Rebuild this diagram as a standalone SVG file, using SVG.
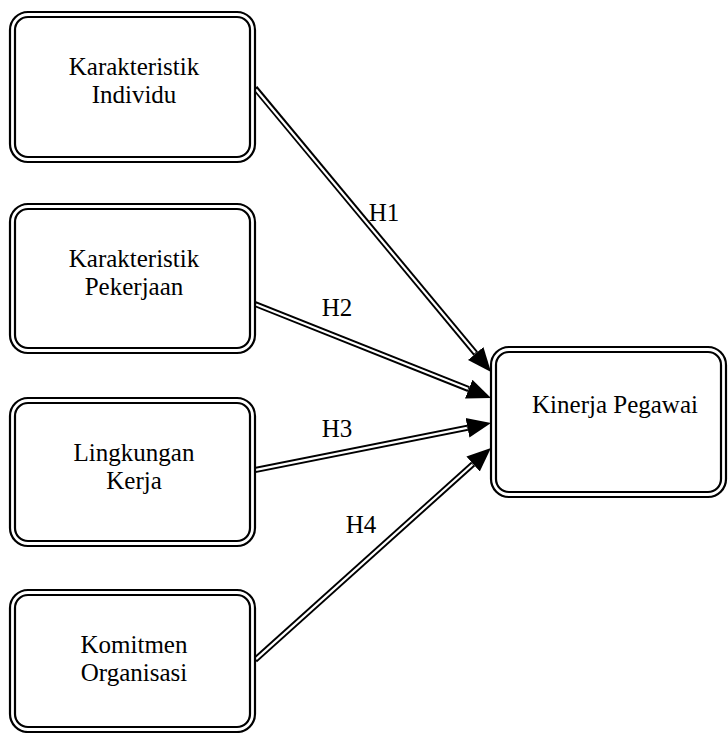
<svg xmlns="http://www.w3.org/2000/svg" width="728" height="733" viewBox="0 0 728 733">
  <style>
    .outer { fill: #fff; stroke: #000; stroke-width: 2.2; }
    .inner { fill: none; stroke: #000; stroke-width: 2.2; }
    .edge-b { stroke: #000; stroke-width: 6; fill: none; }
    .edge-w { stroke: #fff; stroke-width: 2.2; fill: none; }
    text { font-family: "Liberation Serif", "Times New Roman", serif; font-size: 25px; fill: #000; text-anchor: middle; }
  </style>
  <defs>
    <marker id="arr" markerUnits="userSpaceOnUse" markerWidth="26" markerHeight="22" refX="0" refY="10" viewBox="0 -1 26 22" orient="auto">
      <path d="M0,0 L24,10 L0,20 z" fill="#000"/>
    </marker>
  </defs>
  <rect width="728" height="733" fill="#fff"/>

  <g id="connectors">
    <path class="edge-b" d="M255,88 L475.7,353.5" marker-end="url(#arr)"/>
    <path class="edge-b" d="M255,304 L468.7,389.1" marker-end="url(#arr)"/>
    <path class="edge-b" d="M255,470 L467.5,427.7" marker-end="url(#arr)"/>
    <path class="edge-b" d="M255,660 L473.1,464.0" marker-end="url(#arr)"/>
    <path class="edge-w" d="M256,89.5 L475.1,352.8"/>
    <path class="edge-w" d="M256,304.4 L468,388.8"/>
    <path class="edge-w" d="M256,469.8 L466.9,427.8"/>
    <path class="edge-w" d="M256,659.1 L472.5,464.5"/>
    <text x="384" y="221">H1</text>
    <text x="337" y="316">H2</text>
    <text x="337" y="437">H3</text>
    <text x="361" y="533">H4</text>
  </g>

  <g id="karakteristik-individu">
    <rect class="outer" x="10" y="12" width="245" height="150" rx="18"/>
    <rect class="inner" x="15" y="17" width="235" height="140" rx="13"/>
    <text x="134" y="75">Karakteristik</text>
    <text x="134" y="103">Individu</text>
  </g>

  <g id="karakteristik-pekerjaan">
    <rect class="outer" x="10" y="204" width="245" height="149" rx="18"/>
    <rect class="inner" x="15" y="209" width="235" height="139" rx="13"/>
    <text x="134" y="267">Karakteristik</text>
    <text x="134" y="295">Pekerjaan</text>
  </g>

  <g id="lingkungan-kerja">
    <rect class="outer" x="10" y="398" width="245" height="148" rx="18"/>
    <rect class="inner" x="15" y="403" width="235" height="138" rx="13"/>
    <text x="134" y="461">Lingkungan</text>
    <text x="134" y="489">Kerja</text>
  </g>

  <g id="komitmen-organisasi">
    <rect class="outer" x="10" y="590" width="245" height="142" rx="18"/>
    <rect class="inner" x="15" y="595" width="235" height="132" rx="13"/>
    <text x="134" y="653">Komitmen</text>
    <text x="134" y="681">Organisasi</text>
  </g>

  <g id="kinerja-pegawai">
    <rect class="outer" x="491" y="347" width="235" height="150" rx="18"/>
    <rect class="inner" x="496" y="352" width="225" height="140" rx="13"/>
    <text x="615" y="413">Kinerja Pegawai</text>
  </g>
</svg>
